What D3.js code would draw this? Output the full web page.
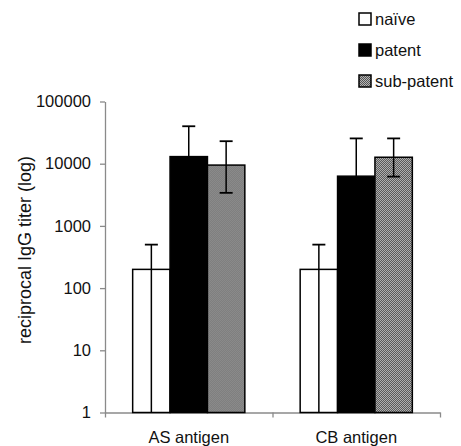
<!DOCTYPE html>
<html>
<head>
<meta charset="utf-8">
<script src="https://cdn.jsdelivr.net/npm/d3@7"></script>
<style>
  body { margin: 0; background: #fff; }
  text { font-family: "Liberation Sans", Arial, sans-serif; }
</style>
</head>
<body>
<div id="plot"></div>
<script>
// values
var categories = ["AS antigen", "CB antigen"];
var groups = ["naïve", "patent", "sub-patent"];
var naiveMean = [200, 200];
var patentMean = [13000, 6300];
var subMean = [9500, 12700];
var naiveUpper = [500, 500];
var patentUpper = [40000, 25500];
var subUpper = [23000, 25500];
// null = error bar runs down past the axis floor
var naiveLower = [null, null];
var patentLower = [null, null];
var subLower = [3400, 6200];
var yTicks = [1, 10, 100, 1000, 10000, 100000];

var data = [];
categories.forEach(function(c, i) {
  data.push({cat: c, group: "naïve", mean: naiveMean[i], up: naiveUpper[i], lo: naiveLower[i]});
  data.push({cat: c, group: "patent", mean: patentMean[i], up: patentUpper[i], lo: patentLower[i]});
  data.push({cat: c, group: "sub-patent", mean: subMean[i], up: subUpper[i], lo: subLower[i]});
});

var W = 461, H = 446;
var plotLeft = 105, plotRight = 440, plotTop = 101.5, plotBottom = 412.5;

var svg = d3.select("div#plot").append("svg")
    .attr("width", W)
    .attr("height", H);

// checkered gray fill used for sub-patent
var defs = svg.append("defs");
var pat = defs.append("pattern")
    .attr("id", "dots")
    .attr("patternUnits", "userSpaceOnUse")
    .attr("width", 2).attr("height", 2);
pat.append("rect").attr("width", 2).attr("height", 2).attr("fill", "#b4b4b4");
pat.append("rect").attr("x", 0).attr("y", 0).attr("width", 1).attr("height", 1).attr("fill", "#555");
pat.append("rect").attr("x", 1).attr("y", 1).attr("width", 1).attr("height", 1).attr("fill", "#555");

var fills = {"naïve": "#fff", "patent": "#000", "sub-patent": "url(#dots)"};

var y = d3.scaleLog()
    .domain([1, 100000])
    .range([plotBottom, plotTop]);

var x0 = d3.scaleBand()
    .domain(categories)
    .range([plotLeft, plotRight])
    .padding(0);

var x1 = d3.scaleBand()
    .domain(groups)
    .range([0, x0.bandwidth()])
    .paddingInner(0)
    .paddingOuter(0.74);

// y axis
var yAxis = svg.append("g")
    .attr("transform", "translate(" + plotLeft + ",0)")
    .call(d3.axisLeft(y).tickValues(yTicks).tickFormat(d3.format("d")).tickSize(5).tickPadding(9).tickSizeOuter(0));
yAxis.select(".domain").attr("stroke", "#8a8a8a").attr("stroke-width", 1.3);
yAxis.selectAll(".tick line").attr("stroke", "#8a8a8a").attr("stroke-width", 1.3);
yAxis.selectAll(".tick text")
    .style("font-size", "16.5px")
    .attr("fill", "#111");

// x axis: ticks sit on the category boundaries
var xb = d3.scaleLinear().domain([0, categories.length]).range([plotLeft, plotRight]);
var xAxis = svg.append("g")
    .attr("transform", "translate(0," + plotBottom + ")")
    .call(d3.axisBottom(xb).tickValues([0, 1, 2]).tickFormat("").tickSize(5).tickSizeOuter(0));
xAxis.select(".domain").attr("stroke", "#8a8a8a").attr("stroke-width", 1.3);
xAxis.selectAll(".tick line").attr("stroke", "#8a8a8a").attr("stroke-width", 1.3);

svg.append("g").selectAll("text")
    .data(categories)
    .enter().append("text")
    .attr("x", function(d) { return x0(d) + x0.bandwidth() / 2; })
    .attr("y", 443)
    .attr("text-anchor", "middle")
    .attr("fill", "#111")
    .style("font-size", "16.5px")
    .text(function(d) { return d; });

// bars
var bars = svg.append("g").selectAll("g")
    .data(data)
    .enter().append("g")
    .attr("transform", function(d) { return "translate(" + (x0(d.cat) + x1(d.group)) + ",0)"; });

bars.append("rect")
    .attr("x", 0)
    .attr("width", x1.bandwidth())
    .attr("y", function(d) { return y(d.mean); })
    .attr("height", function(d) { return plotBottom - y(d.mean); })
    .attr("fill", function(d) { return fills[d.group]; })
    .attr("stroke", "#000")
    .attr("stroke-width", 1.5);

// error bars
var bw = x1.bandwidth();
bars.append("line")
    .attr("x1", bw / 2).attr("x2", bw / 2)
    .attr("y1", function(d) { return y(d.up); })
    .attr("y2", function(d) { return d.lo == null ? plotBottom : y(d.lo); })
    .attr("stroke", "#000")
    .attr("stroke-width", 1.5);

bars.append("line")
    .attr("x1", bw / 2 - 6.5).attr("x2", bw / 2 + 6.5)
    .attr("y1", function(d) { return y(d.up); })
    .attr("y2", function(d) { return y(d.up); })
    .attr("stroke", "#000")
    .attr("stroke-width", 1.8);

bars.filter(function(d) { return d.lo != null; }).append("line")
    .attr("x1", bw / 2 - 6.5).attr("x2", bw / 2 + 6.5)
    .attr("y1", function(d) { return y(d.lo); })
    .attr("y2", function(d) { return y(d.lo); })
    .attr("stroke", "#000")
    .attr("stroke-width", 1.8);

// y label
svg.append("text")
    .attr("transform", "translate(25," + 250 + ") rotate(-90)")
    .attr("text-anchor", "middle")
    .attr("dy", ".35em")
    .attr("fill", "#111")
    .style("font-size", "18px")
    .text("reciprocal IgG titer (log)");

// legend
var legend = svg.selectAll(".legend")
    .data(groups)
    .enter().append("g")
    .attr("class", "legend")
    .attr("transform", function(d, i) { return "translate(359," + (19 + i * 31) + ")"; });

legend.append("rect")
    .attr("x", 0)
    .attr("y", -6)
    .attr("width", 12)
    .attr("height", 12)
    .attr("fill", function(d) { return fills[d]; })
    .attr("stroke", "#000")
    .attr("stroke-width", 1.5);

legend.append("text")
    .attr("x", 16)
    .attr("y", 0)
    .attr("dy", ".35em")
    .attr("fill", "#111")
    .style("font-size", "16.5px")
    .text(function(d) { return d; });
</script>
</body>
</html>
